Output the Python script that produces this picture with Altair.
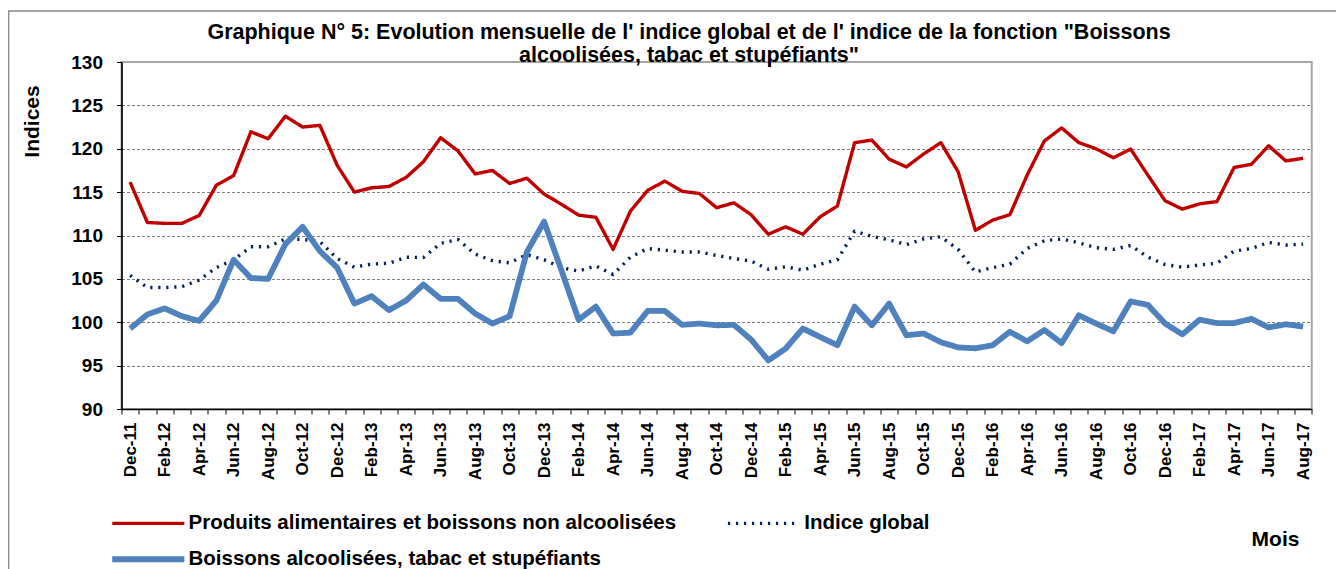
import altair as alt
import pandas as pd

# ---------------- data ----------------
noms_mois = ["Jan", "Feb", "Mar", "Apr", "May", "Jun", "Jul", "Aug", "Sep", "Oct", "Nov", "Dec"]
mois = (["Dec-11"]
        + [f"{m}-{a}" for a in ["12", "13", "14", "15", "16"] for m in noms_mois]
        + [f"{m}-17" for m in noms_mois[:8]])

serie_produits = "Produits alimentaires et boissons non alcoolisées"
serie_global = "Indice global"
serie_boissons = "Boissons alcoolisées, tabac et stupéfiants"

produits_alimentaires = [
    116.15, 111.5, 111.4, 111.4, 112.3, 115.8, 116.9, 121.95, 121.15, 123.75, 122.5, 122.7, 118.1, 115.0, 115.5, 115.65, 116.7,
    118.5, 121.27, 119.77, 117.1, 117.5, 116.0, 116.6, 114.77, 113.6, 112.35, 112.1, 108.4, 112.8, 115.2, 116.27, 115.1, 114.85, 113.2,
    113.77, 112.4, 110.15, 111.0, 110.15, 112.15, 113.4, 120.7, 121.0, 118.8, 117.9, 119.4, 120.7, 117.35, 110.6, 111.77, 112.4,
    116.96, 120.9, 122.4, 120.7, 120.0, 118.96, 119.96, 116.96, 114.0, 113.04, 113.65, 113.9, 117.85, 118.2, 120.35, 118.6, 118.9,
]

indice_global = [
    105.4, 104.0, 104.0, 104.1, 104.85, 106.3, 107.2, 108.7, 108.7, 109.6, 109.55, 109.3, 107.35, 106.35, 106.7, 106.8, 107.5,
    107.46, 109.1, 109.54, 107.85, 107.1, 106.85, 107.8, 107.2, 106.3, 105.9, 106.5, 105.5, 107.5, 108.5, 108.3, 108.1, 108.1, 107.7,
    107.35, 107.05, 106.1, 106.4, 106.0, 106.7, 107.2, 110.5, 109.9, 109.5, 108.95, 109.6, 109.85, 108.4, 105.8, 106.3, 106.7,
    108.5, 109.4, 109.6, 109.15, 108.6, 108.4, 108.85, 107.5, 106.65, 106.35, 106.6, 106.8, 108.2, 108.5, 109.2, 108.9, 109.0,
]

boissons_alcoolisees = [
    99.27, 100.9, 101.6, 100.7, 100.15, 102.5, 107.2, 105.1, 105.0, 109.0, 111.0, 108.2, 106.3, 102.15, 103.0, 101.4, 102.5,
    104.35, 102.7, 102.7, 101.0, 99.85, 100.7, 108.1, 111.6, 106.0, 100.3, 101.8, 98.7, 98.8, 101.3, 101.3, 99.7, 99.85, 99.65,
    99.7, 98.0, 95.6, 96.96, 99.27, 98.3, 97.35, 101.8, 99.65, 102.15, 98.5, 98.7, 97.7, 97.1, 97.0, 97.35, 98.9,
    97.8, 99.1, 97.6, 100.8, 99.85, 98.96, 102.4, 102.0, 99.85, 98.6, 100.3, 99.9, 99.9, 100.4, 99.4, 99.77, 99.5,
]

y_ticks = [90, 95, 100, 105, 110, 115, 120, 125, 130]

titre = [
    "Graphique N° 5: Evolution mensuelle de l' indice global  et de l' indice de la fonction \"Boissons",
    "alcoolisées, tabac et stupéfiants\"",
]

# legend order (filled column by column): col 1 = Produits, Boissons ; col 2 = Indice global
ordre_legende = [serie_produits, serie_boissons, serie_global]

# ---------------- styles ----------------
couleurs = ["#C00000", "#4F81BD", "#002060"]
tirets = [[1, 0], [1, 0], [2.2, 5.8]]
epaisseurs = [3.4, 5.8, 3.4]
FONT = "Liberation Sans"

rows = []
# drawing order: Produits, Indice global, Boissons (on top)
for nom, vals in [(serie_produits, produits_alimentaires),
                  (serie_global, indice_global),
                  (serie_boissons, boissons_alcoolisees)]:
    for i, (m, v) in enumerate(zip(mois, vals)):
        rows.append({"mois": m, "idx": i, "serie": nom, "valeur": v})
df = pd.DataFrame(rows)

legende = alt.Legend(
    title=None,
    orient="none",
    legendX=-19.5,
    legendY=451,
    columns=2,
    columnPadding=40.7,
    rowPadding=13,
    symbolType="M0,0H10.3",
    symbolSize=196,
    labelOffset=66,
    labelFont=FONT,
    labelFontSize=20.5,
    labelFontWeight="bold",
    labelColor="black",
    labelLimit=0,
)

x_axis = alt.Axis(
    title="Mois",
    titleFont=FONT,
    titleFontSize=21,
    titleFontWeight="bold",
    titleColor="black",
    titleX=1153.5,
    titleY=130,
    titleAlign="center",
    titleBaseline="middle",
    labelAngle=-90,
    labelFont=FONT,
    labelFontSize=17,
    labelFontWeight="bold",
    labelColor="black",
    labelPadding=8,
    labelOverlap=False,
    labelBound=False,
    labelExpr="test(/^(Jan|Mar|May|Jul|Sep|Nov)/, datum.value) ? '' : datum.value",
    tickBand="extent",
    tickSize=5,
    tickColor="black",
    tickWidth=1,
    domainColor="black",
    domainWidth=1.6,
    grid=False,
)

y_axis = alt.Axis(
    values=y_ticks,
    title="Indices",
    titleFont=FONT,
    titleFontSize=21,
    titleFontWeight="bold",
    titleColor="black",
    titleX=-89.5,
    titleY=59,
    titleAngle=270,
    titleAlign="center",
    titleBaseline="middle",
    labelFont=FONT,
    labelFontSize=19,
    labelFontWeight="bold",
    labelColor="black",
    labelPadding=14,
    tickSize=5,
    tickColor="black",
    tickWidth=1,
    domainColor="black",
    domainWidth=1.6,
    grid=True,
    gridColor={"condition": {"test": "datum.value === 130 || datum.value === 90", "value": "rgba(0,0,0,0)"},
               "value": "#7F7F7F"},
    gridDash=[3, 2],
    gridWidth=1,
)

lignes = alt.Chart(df).mark_line(strokeCap="butt", strokeJoin="round").encode(
    x=alt.X("mois:O", sort=mois,
            scale=alt.Scale(type="band", paddingInner=0, paddingOuter=0),
            bandPosition=0.5, axis=x_axis),
    y=alt.Y("valeur:Q", scale=alt.Scale(domain=[90, 130], nice=False, zero=False), axis=y_axis),
    color=alt.Color("serie:N", scale=alt.Scale(domain=ordre_legende, range=couleurs), legend=legende),
    strokeDash=alt.StrokeDash("serie:N", scale=alt.Scale(domain=ordre_legende, range=tirets), legend=legende),
    strokeWidth=alt.StrokeWidth("serie:N", scale=alt.Scale(type="ordinal", domain=ordre_legende, range=epaisseurs),
                                legend=legende),
    order=alt.Order("idx:Q"),
)

cadre = pd.DataFrame({"k": [0]})
cadre_haut = alt.Chart(cadre).mark_rule(color="#868686", strokeWidth=1.3).encode(
    x=alt.value(-113.5), x2=alt.value(1214.5), y=alt.value(-51)
)
cadre_gauche = alt.Chart(cadre).mark_rule(color="#868686", strokeWidth=1.3).encode(
    x=alt.value(-112.8), y=alt.value(-51), y2=alt.value(512)
)

chart = alt.layer(lignes, cadre_haut, cadre_gauche).properties(
    width=1190.25,
    height=347,
    autosize=alt.AutoSizeParams(type="none"),
    padding={"left": 113.5, "top": 54, "right": 24.25, "bottom": 161},
    title=alt.TitleParams(
        text=titre,
        font=FONT,
        fontSize=21.5,
        fontWeight="bold",
        color="black",
        anchor="middle",
        frame="group",
        dx=-27.6,
        offset=-73.5,
        baseline="alphabetic",
        lineHeight=23,
    ),
).configure(background="white").configure_view(stroke="#A6A6A6", strokeWidth=2)

chart.save("out.html", embed_options={"renderer": "svg", "actions": False})
